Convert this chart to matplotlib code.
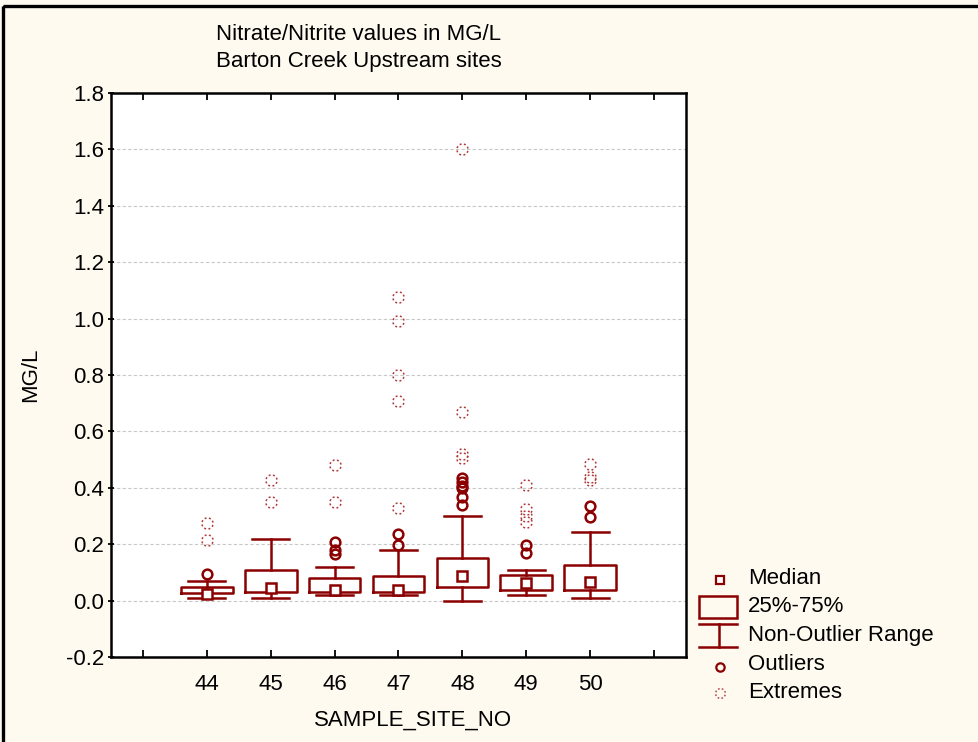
import numpy as np
import matplotlib
matplotlib.use("Agg")
import matplotlib.pyplot as plt
from matplotlib.path import Path
from matplotlib.patches import Rectangle

plt.rcParams['font.family'] = ['Liberation Sans', 'DejaVu Sans']
plt.rcParams['axes.unicode_minus'] = False

# values (MG/L)
sites = [44, 45, 46, 47, 48, 49, 50]
medians = [0.022, 0.046, 0.038, 0.037, 0.088, 0.061, 0.067]
q1 = [0.028, 0.029, 0.031, 0.029, 0.049, 0.038, 0.038]
q3 = [0.050, 0.110, 0.080, 0.088, 0.152, 0.091, 0.126]
whis_lo = [0.010, 0.010, 0.020, 0.020, 0.000, 0.020, 0.008]
whis_hi = [0.070, 0.220, 0.120, 0.180, 0.300, 0.110, 0.244]
outliers = [
    [0.095],
    [],
    [0.209, 0.180, 0.166],
    [0.236, 0.197],
    [0.435, 0.420, 0.405, 0.398, 0.366, 0.340],
    [0.197, 0.168],
    [0.335, 0.297],
]
extremes = [
    [0.275, 0.215],
    [0.428, 0.350],
    [0.480, 0.350],
    [1.078, 0.993, 0.800, 0.708, 0.330],
    [1.601, 0.670, 0.520, 0.505],
    [0.410, 0.325, 0.300, 0.280],
    [0.485, 0.440, 0.428],
]

W, H = 979, 742
RED = '#8b0000'
XRED = '#b03a3a'
BG = '#fffaf0'
FS = 16

# dotted ring used by the reference for extreme values
def dotted_ring(n=8, span=20):
    verts, codes = [], []
    for k in range(n):
        a0 = np.deg2rad(k * 360 / n + 10)
        a1 = a0 + np.deg2rad(span)
        verts += [(np.cos(a0), np.sin(a0)), (np.cos(a1), np.sin(a1))]
        codes += [Path.MOVETO, Path.LINETO]
    return Path(verts, codes)

ring = dotted_ring()

fig = plt.figure(figsize=(W / 100, H / 100), dpi=100, facecolor=BG)
ax = fig.add_axes([111 / W, (H - 657) / H, 575 / W, 564 / H])
ax.set_facecolor('white')

stats = []
for i in range(len(sites)):
    stats.append(dict(med=medians[i], q1=q1[i], q3=q3[i],
                      whislo=whis_lo[i], whishi=whis_hi[i], fliers=[]))

ax.bxp(stats, positions=sites, widths=0.81, capwidths=0.58, showfliers=False,
       boxprops=dict(color=RED, linewidth=1.8),
       whiskerprops=dict(color=RED, linewidth=1.8),
       capprops=dict(color=RED, linewidth=1.8),
       medianprops=dict(linewidth=0))
ax.plot(sites, medians, 's', ms=7, mfc='white', mec=RED, mew=1.8, zorder=4)

for s, vals in zip(sites, outliers):
    ax.plot([s] * len(vals), vals, 'o', ms=7, mfc='none', mec=RED, mew=1.8, zorder=4)
for s, vals in zip(sites, extremes):
    ax.plot([s] * len(vals), vals, ls='none', marker=ring, ms=8, mfc='none',
            mec=XRED, mew=1.1, zorder=4)

ax.set_xlim(42.5, 51.5)
ax.set_ylim(-0.2, 1.8)
ax.set_xticks(range(43, 52))
ax.set_xticklabels([''] + [str(s) for s in sites] + [''])
ax.set_yticks(np.arange(-0.2, 1.81, 0.2))
ax.set_yticklabels(['%.1f' % v for v in np.arange(-0.2, 1.81, 0.2)])
ax.yaxis.grid(True, color='#c8c8c8', linestyle=(0, (3, 2)), linewidth=0.8)
ax.set_axisbelow(True)
ax.tick_params(axis='x', direction='in', top=True, length=5, width=1.3,
               labelsize=FS, pad=12)
ax.tick_params(axis='y', direction='inout', length=4, width=1.3, labelsize=FS, pad=3)
for sp in ax.spines.values():
    sp.set_linewidth(1.8)

fig.text(359 / W, 1 - 35 / H, 'Nitrate/Nitrite values in MG/L', ha='center', va='center', fontsize=FS)
fig.text(359 / W, 1 - 62 / H, 'Barton Creek Upstream sites', ha='center', va='center', fontsize=FS)
fig.text(413 / W, 1 - 720 / H, 'SAMPLE_SITE_NO', ha='center', va='center', fontsize=FS)
fig.text(31 / W, 1 - 375 / H, 'MG/L', ha='center', va='center', rotation=90, fontsize=FS)

# legend and outer frame drawn in pixel coordinates
lax = fig.add_axes([0, 0, 1, 1], facecolor='none')
lax.set_xlim(0, W)
lax.set_ylim(H, 0)
lax.axis('off')
lax.add_patch(Rectangle((3, 6), W + 20, H + 20, fill=False, ec='black', lw=2.4))

lax.plot(720.5, 580, 's', ms=6, mfc='white', mec=RED, mew=1.6)
lax.add_patch(Rectangle((699, 596), 38, 22, fill=False, ec=RED, lw=1.8))
lax.plot([699, 737], [624, 624], color=RED, lw=1.8)
lax.plot([719, 719], [624, 647], color=RED, lw=1.8)
lax.plot([699, 737], [647, 647], color=RED, lw=1.8)
lax.plot(720, 667, 'o', ms=6, mfc='none', mec=RED, mew=1.6)
lax.plot(720, 693, ls='none', marker=ring, ms=7, mfc='none', mec=XRED, mew=1.0)

labels = ['Median', '25%-75%', 'Non-Outlier Range', 'Outliers', 'Extremes']
for lab, y in zip(labels, [579, 607, 636, 665, 693]):
    lax.text(748, y, lab, ha='left', va='center', fontsize=FS)

fig.savefig('out.png', dpi=100, facecolor=BG)
